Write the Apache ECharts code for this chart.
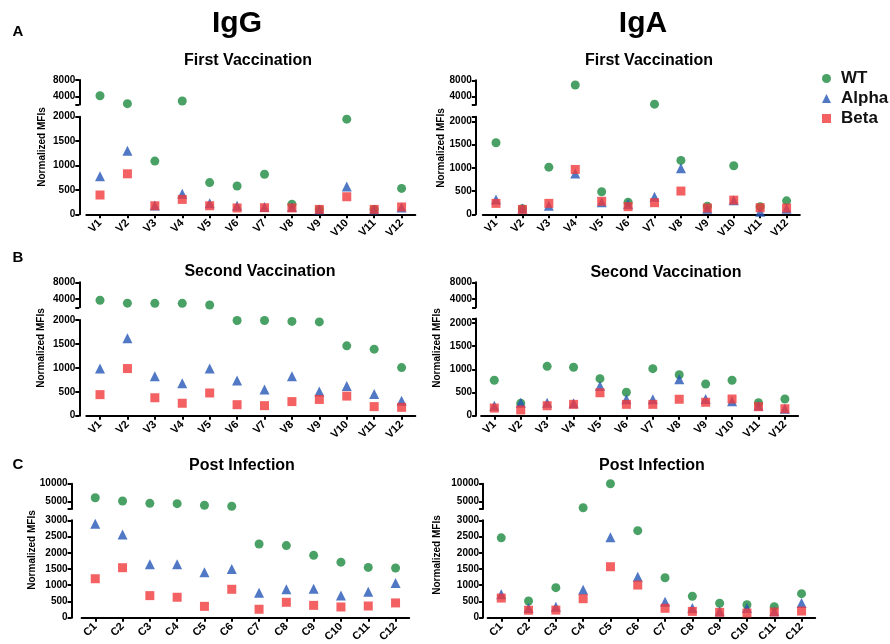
<!DOCTYPE html>
<html><head><meta charset="utf-8">
<script src="https://cdn.jsdelivr.net/npm/echarts@6/dist/echarts.min.js"></script>
<style>html,body{margin:0;padding:0;background:#fff}#c{width:890px;height:644px}</style>
</head><body><div id="c"></div>
<script>
// ---------- data ----------
const vCats = ['V1','V2','V3','V4','V5','V6','V7','V8','V9','V10','V11','V12'];
const cCats = ['C1','C2','C3','C4','C5','C6','C7','C8','C9','C10','C11','C12'];
const seriesNames = ['WT','Alpha','Beta'];

const iggFirstWT    = [4150, 2200, 1090, 2850, 650, 580, 820, 205, 100, 1950, 100, 530];
const iggFirstAlpha = [780, 1300, 180, 420, 225, 175, 150, 150, 100, 570, 100, 140];
const iggFirstBeta  = [395, 830, 175, 305, 175, 130, 135, 130, 100, 360, 100, 150];

const igaFirstWT    = [1540, 120, 1015, 6850, 485, 260, 2150, 1160, 175, 1045, 165, 290];
const igaFirstAlpha = [320, 125, 185, 880, 260, 220, 380, 990, 120, 300, 55, 120];
const igaFirstBeta  = [235, 105, 235, 965, 280, 165, 250, 500, 135, 305, 140, 135];

const iggSecondWT    = [3700, 3000, 2950, 2950, 2550, 1990, 1990, 1970, 1960, 1460, 1390, 1005];
const iggSecondAlpha = [985, 1620, 825, 680, 985, 735, 545, 825, 505, 620, 455, 315];
const iggSecondBeta  = [440, 985, 375, 260, 475, 230, 210, 295, 340, 410, 190, 175];

const igaSecondWT    = [765, 270, 1065, 1045, 800, 505, 1015, 885, 685, 765, 280, 360];
const igaSecondAlpha = [215, 280, 280, 270, 640, 355, 355, 785, 360, 310, 215, 150];
const igaSecondBeta  = [165, 125, 215, 245, 495, 245, 245, 355, 290, 360, 195, 150];

const iggPostWT    = [6100, 5200, 4550, 4450, 4000, 3750, 2270, 2220, 1920, 1710, 1550, 1530];
const iggPostAlpha = [2890, 2560, 1645, 1645, 1400, 1500, 770, 875, 895, 680, 800, 1070];
const iggPostBeta  = [1200, 1540, 680, 630, 350, 875, 260, 475, 380, 330, 360, 455];

const igaPostWT    = [2460, 515, 925, 3330, 10000, 2680, 1230, 660, 445, 400, 340, 740];
const igaPostAlpha = [720, 300, 340, 860, 2475, 1265, 495, 300, 200, 300, 200, 455];
const igaPostBeta  = [605, 230, 235, 585, 1570, 1005, 290, 195, 165, 145, 175, 205];

const upperTicksVacc = [4000, 8000];
const upperTicksPost = [5000, 10000];
const lowerTicksVacc = [0, 500, 1000, 1500, 2000];
const lowerTicksPost = [0, 500, 1000, 1500, 2000, 2500, 3000];

// ---------- layout / style ----------
const FONT = 'Arial, "Liberation Sans", Helvetica, sans-serif';
const colors = ['#1d8a3e', '#2456b6', '#f03a3c'];
const symbols = ['circle', 'triangle', 'rect'];
const symSizes = [9, 10, 9];

const panels = [
  {cats: vCats, vals: [iggFirstWT, iggFirstAlpha, iggFirstBeta], split: 2000, upMax: 8000, upTicks: upperTicksVacc, lowMax: 2000, lowTicks: lowerTicksVacc,
   left: 86.3, width: 329, off: 7, upTop: 80, upH: 24.5, lowTop: 116.7, lowH: 97.6},
  {cats: vCats, vals: [igaFirstWT, igaFirstAlpha, igaFirstBeta], split: 2000, upMax: 8000, upTicks: upperTicksVacc, lowMax: 2100, lowTicks: lowerTicksVacc,
   left: 482.8, width: 317, off: 7, upTop: 80.3, upH: 24.5, lowTop: 116.7, lowH: 97.6},
  {cats: vCats, vals: [iggSecondWT, iggSecondAlpha, iggSecondBeta], split: 2000, upMax: 8000, upTicks: upperTicksVacc, lowMax: 2000, lowTicks: lowerTicksVacc,
   left: 86.3, width: 329, off: 7, upTop: 282.3, upH: 25, lowTop: 320, lowH: 95.7},
  {cats: vCats, vals: [igaSecondWT, igaSecondAlpha, igaSecondBeta], split: 2000, upMax: 8000, upTicks: upperTicksVacc, lowMax: 2100, lowTicks: lowerTicksVacc,
   left: 481.1, width: 317, off: 5, upTop: 282.3, upH: 25, lowTop: 318.4, lowH: 97.3},
  {cats: cCats, vals: [iggPostWT, iggPostAlpha, iggPostBeta], split: 3000, upMax: 10000, upTicks: upperTicksPost, lowMax: 3000, lowTicks: lowerTicksPost,
   left: 81.6, width: 327.6, off: 10, upTop: 483.7, upH: 25.2, lowTop: 520.3, lowH: 97.4},
  {cats: cCats, vals: [igaPostWT, igaPostAlpha, igaPostBeta], split: 3000, upMax: 10000, upTicks: upperTicksPost, lowMax: 3000, lowTicks: lowerTicksPost,
   left: 487.6, width: 327.6, off: 4.5, upTop: 483.7, upH: 25.2, lowTop: 520.3, lowH: 97.4}
];

const axisLine = {show: true, lineStyle: {color: '#000', width: 2}};
const yLabel = {fontSize: 10, fontWeight: 'bold', color: '#000', fontFamily: FONT, margin: 4, formatter: v => String(v)};

const grid = [], xAxis = [], yAxis = [], series = [];
panels.forEach((p, i) => {
  grid.push({left: p.left, width: p.width, top: p.upTop, height: p.upH, containLabel: false, outerBoundsMode: 'none'});
  grid.push({left: p.left, width: p.width, top: p.lowTop, height: p.lowH, containLabel: false, outerBoundsMode: 'none'});
  const gu = 2 * i, gl = 2 * i + 1;
  xAxis.push({gridIndex: gu, type: 'category', data: p.cats, show: false});
  xAxis.push({gridIndex: gl, type: 'category', data: p.cats, axisLine: axisLine,
    axisTick: {show: true, alignWithLabel: true, length: 4, lineStyle: {color: '#000', width: 2}},
    axisLabel: {interval: 0, rotate: 45, fontSize: 11, fontWeight: 'bold', color: '#000', fontFamily: FONT, margin: 7}});
  yAxis.push({gridIndex: gu, type: 'value', min: p.split, max: p.upMax, offset: p.off, splitLine: {show: false},
    axisLine: axisLine,
    axisTick: {show: true, length: 4, lineStyle: {color: '#000', width: 2}, customValues: [p.split].concat(p.upTicks)},
    axisLabel: Object.assign({customValues: p.upTicks}, yLabel)});
  yAxis.push({gridIndex: gl, type: 'value', min: 0, max: p.lowMax, offset: p.off, splitLine: {show: false},
    axisLine: axisLine,
    axisTick: {show: true, length: 4, lineStyle: {color: '#000', width: 2}, customValues: p.lowTicks.concat([p.lowMax])},
    axisLabel: Object.assign({customValues: p.lowTicks}, yLabel)});
  seriesNames.forEach((name, k) => {
    const arr = p.vals[k];
    const base = {name: name, type: 'scatter', symbol: symbols[k], symbolSize: symSizes[k],
      itemStyle: {color: colors[k]}, silent: true};
    series.push(Object.assign({}, base, {xAxisIndex: gl, yAxisIndex: gl, z: 2 + k,
      data: arr.map(v => v <= p.split ? v : '-')}));
    series.push(Object.assign({}, base, {xAxisIndex: gu, yAxisIndex: gu, z: 2 + k,
      data: arr.map(v => v > p.split ? v : '-')}));
  });
});

function txt(x, y, s, size, extra) {
  return Object.assign({type: 'text', x: x, y: y, silent: true,
    style: {text: s, fontSize: size, fontWeight: 'bold', fontFamily: FONT, fill: '#000', align: 'center', verticalAlign: 'middle'}}, extra || {});
}
const yName = 'Normalized MFIs';
const graphic = [
  txt(18, 32, 'A', 15), txt(18, 258, 'B', 15), txt(18, 465, 'C', 15),
  txt(237, 24, 'IgG', 30), txt(643, 24, 'IgA', 30),
  txt(248, 61, 'First Vaccination', 16), txt(649, 61, 'First Vaccination', 16),
  txt(260, 272, 'Second Vaccination', 16), txt(666, 273, 'Second Vaccination', 16),
  txt(242, 466, 'Post Infection', 16), txt(652, 466, 'Post Infection', 16),
  txt(42, 147, yName, 10, {rotation: Math.PI / 2}), txt(441, 148, yName, 10, {rotation: Math.PI / 2}),
  txt(41, 348, yName, 10, {rotation: Math.PI / 2}), txt(437, 348, yName, 10, {rotation: Math.PI / 2}),
  txt(32, 550, yName, 10, {rotation: Math.PI / 2}), txt(437, 555, yName, 10, {rotation: Math.PI / 2})
];

const chart = echarts.init(document.getElementById('c'), null, {renderer: 'canvas'});
chart.setOption({
  animation: false,
  backgroundColor: '#fff',
  grid: grid, xAxis: xAxis, yAxis: yAxis, series: series,
  legend: {orient: 'vertical', left: 817, top: 65, itemWidth: 9, itemHeight: 9, itemGap: 3, selectedMode: false,
    data: seriesNames.map((n, k) => ({name: n, icon: symbols[k], itemStyle: {color: colors[k]}})),
    textStyle: {fontSize: 17, fontWeight: 'bold', color: '#111', fontFamily: FONT, lineHeight: 17, padding: [0, 0, 0, 5]}},
  graphic: graphic
});
</script></body></html>
